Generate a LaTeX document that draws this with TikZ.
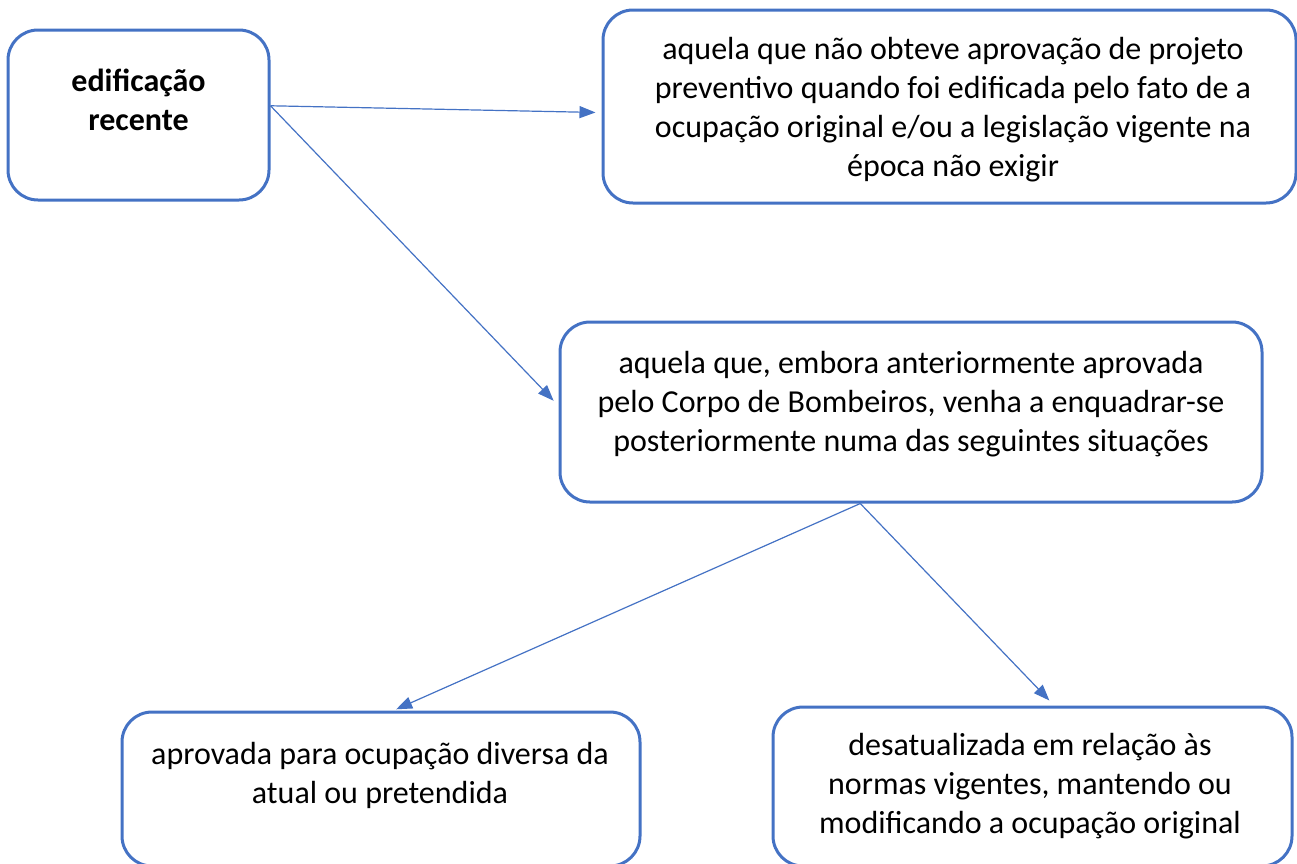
\documentclass[tikz,border=0pt]{standalone}
\usepackage{fontspec}
\setmainfont{Carlito}
\usetikzlibrary{arrows.meta}
\definecolor{boxblue}{HTML}{4472C4}
\tikzset{
  rbox/.style={draw=boxblue, line width=3pt, rounded corners=30pt, minimum width=#1, inner sep=0pt},
  txt/.style={align=center, font=\fontsize{32}{39}\selectfont, inner sep=0pt, text=black},
  conn/.style={draw=boxblue, line width=1.2pt, -{Triangle[length=16pt,width=12pt]}}
}
\begin{document}
\begin{tikzpicture}[x=1pt,y=-1pt]
\useasboundingbox (0,0) rectangle (1297,863);
\clip (0,0) rectangle (1297,863);
% boxes
\node[rbox=261pt, minimum height=170pt] (A) at (138.5,115) {};
\node[rbox=693pt, minimum height=193pt] (B) at (949.5,106.5) {};
\node[rbox=702pt, minimum height=180pt] (C) at (911,412) {};
\node[rbox=518pt, minimum height=154pt] (D) at (381,789) {};
\node[rbox=519pt, minimum height=159pt] (E) at (1032.5,786.5) {};
% texts
\node[txt, font=\fontsize{32}{39}\selectfont\bfseries] (tA) at (138.5,100) {edificação\\recente};
\node[txt] (tB) at (953,110) {aquela que não obteve aprovação de projeto\\preventivo quando foi edificada pelo fato de a\\ocupação original e/ou a legislação vigente na\\época não exigir};
\node[txt] (tC) at (911,404) {aquela que, embora anteriormente aprovada\\pelo Corpo de Bombeiros, venha a enquadrar-se\\posteriormente numa das seguintes situações};
\node[txt] (tD) at (380,775) {aprovada para ocupação diversa da\\atual ou pretendida};
\node[txt] (tE) at (1030,786) {desatualizada em relação às\\normas vigentes, mantendo ou\\modificando a ocupação original};
% connectors
\draw[conn, shorten >=6pt] (A.4) -- (B.181.7);
\draw[conn, shorten >=7pt] (A.4) -- (C.179.7);
\draw[conn, shorten >=3pt] (C.241) -- (D.81.5);
\draw[conn, shorten >=7pt] (C.241) -- (E.75.4);
\end{tikzpicture}
\end{document}
